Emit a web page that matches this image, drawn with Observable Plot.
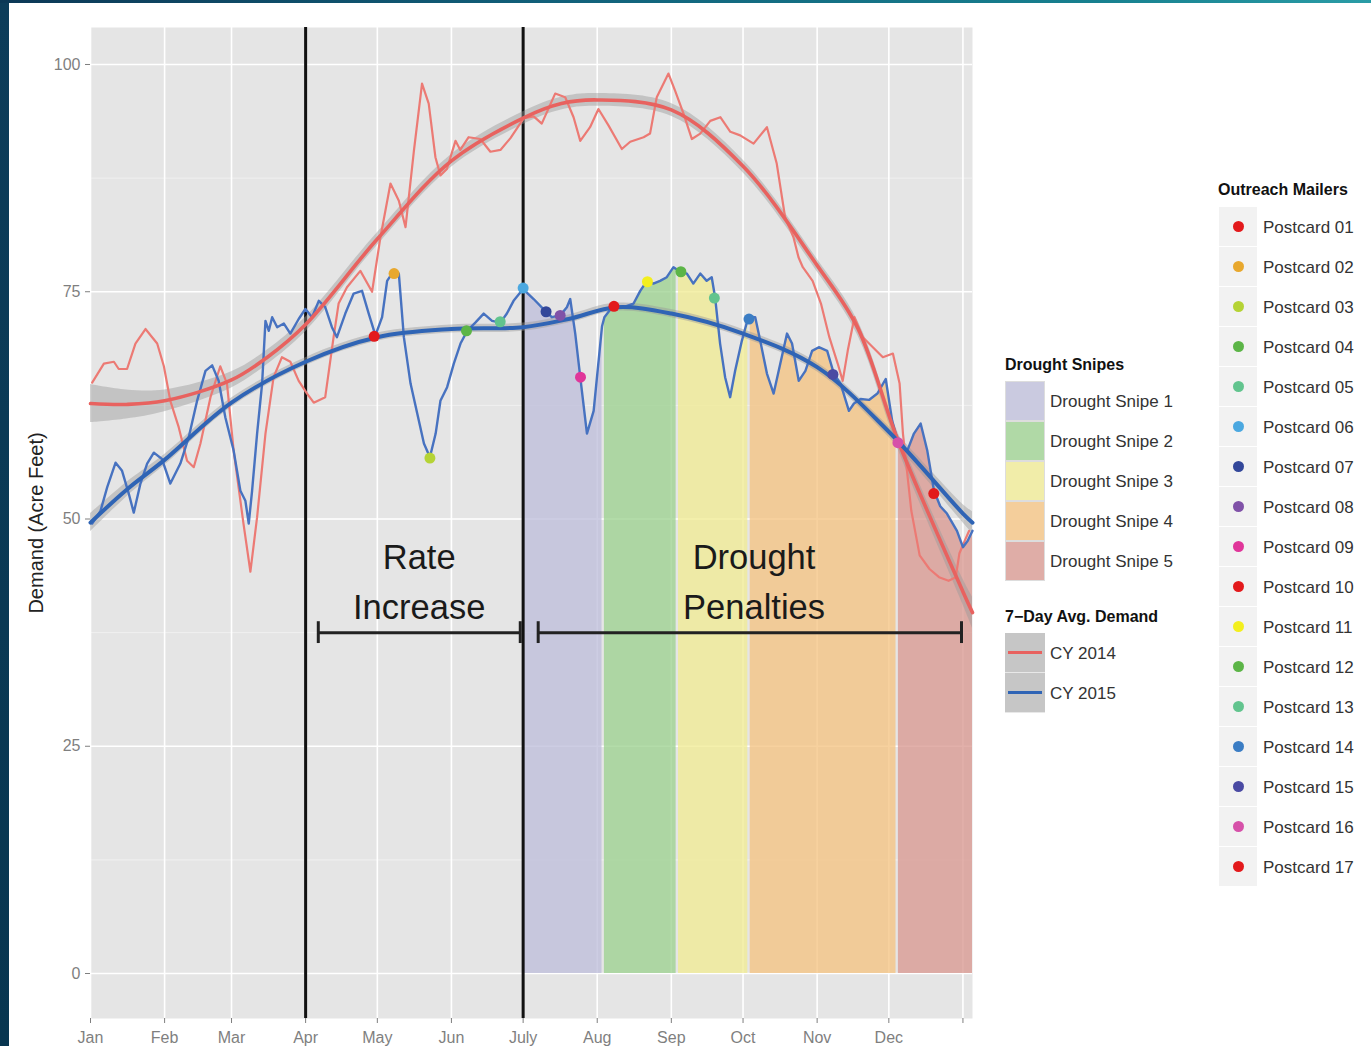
<!DOCTYPE html>
<html><head><meta charset="utf-8">
<script src="https://cdn.jsdelivr.net/npm/d3@7"></script>
<script src="https://cdn.jsdelivr.net/npm/@observablehq/plot@0.6"></script>
<style>
html,body{margin:0;padding:0;background:#fff;}
body{width:1371px;height:1046px;position:relative;overflow:hidden;font-family:"Liberation Sans",Arial,Helvetica,sans-serif;}
#leftbar{position:absolute;left:0;top:0;width:9px;height:1046px;background:linear-gradient(#0d3d5a,#083650);}
#topbar{position:absolute;left:0;top:0;width:1371px;height:3px;background:linear-gradient(to right,#0c3856,#11607a 40%,#17808f 80%,#2a9ca6);}
#chart{position:absolute;left:0;top:0;}
.lg-title{position:absolute;font-weight:bold;font-size:16px;color:#111;line-height:20px;white-space:nowrap;}
.lg-label{position:absolute;font-size:17px;color:#333;line-height:20px;white-space:nowrap;}
.lg-key{position:absolute;box-sizing:border-box;}
</style></head>
<body>
<div id="chart"></div>
<div id="leftbar"></div><div id="topbar"></div>
<div id="legends"></div>
<script>
// ---------- DATA (days counted from Jan 1) ----------
const days2014 = [0.7,5.6,9.8,11.8,15.3,18.8,23,27.9,30.7,33.4,36.9,40.4,43.2,46,50.2,54.3,57.1,59.9,64,66.9,69.7,73.2,76.6,80.1,83.6,87.1,90.6,93.4,98.2,101.7,103.8,107.3,112.9,117.8,121.3,125.5,129,131.8,135.3,138.7,141.5,144.3,146.4,149.1,152.7,154.7,158.2,163.1,167.3,171.5,175.7,181.3,185.4,188.8,194.4,198.6,202.1,204.9,209,212.5,216.7,222.3,225.8,231.4,234.1,236.9,241.8,244.6,248.1,251.6,255.1,259.3,263.5,267.7,271.8,277.4,283,287.1,290.6,294.1,296.2,298,302.1,305.6,309.1,312.6,314.7,316.8,319.6,323.1,327.3,331.5,335.7,338.5,339.9,343.4,346.9,351,355,359,362,363.5,366.4,367.6];
const demand2014 = [65.0,67.1,67.3,66.5,66.5,69.3,70.9,69.3,66.8,63.0,60.1,56.4,55.7,58.3,63.4,66.8,64.9,57.5,49.5,44.2,50.2,59.4,65.6,67.8,67.3,65.2,63.8,62.8,63.4,70.0,73.7,75.5,77.3,75.0,81.0,86.9,85.0,82.1,90.5,97.9,95.7,89.8,87.8,88.5,91.6,90.6,92.0,91.8,90.4,90.6,91.9,94.1,94.3,93.5,96.8,96.4,94.2,91.6,93.1,95.1,93.3,90.7,91.5,92.0,92.4,96.4,99.0,97.1,94.6,91.8,92.4,93.8,94.2,92.6,92.2,91.3,93.1,89.1,83.2,81.0,78.8,77.7,76.2,73.7,70.0,67.1,65.2,68.5,72.2,70.0,68.9,67.8,68.2,64.9,59.4,50.9,46.0,44.5,43.6,43.2,43.6,46.2,48.0,48.7];

const days2015 = [0.7,4.2,7,10.5,13.2,16,18.1,20.9,23.7,26.5,29.9,33.4,37.6,41.1,44.6,48.1,50.9,53.6,56.4,59.9,62.7,64.8,66.2,67.6,69.7,71.8,73.2,74.6,76,78.1,80.9,83.6,87.1,89.9,92.7,95.5,98.2,101,103.1,106.6,110.1,113.6,116.4,119.2,122,124.1,126.9,129,131.1,133.9,136.7,139.5,142,144.4,146.4,149.2,152,154.8,157.6,161,164.5,168,171.5,174.2,177,181,185.4,190.2,193,196.5,199.3,200.7,202.8,204.9,207.7,210.5,214,215,218.8,223,227.2,230,232.8,235.5,238.3,241.1,243.9,245,246,249.5,252.2,255.1,257.8,259.9,261.3,263.4,265.5,267.6,269.7,272.5,275,276,278.1,280.2,283,285.8,288.6,291.4,293.5,296.3,299.1,301.9,304.7,308.2,311,313.8,317.3,319.4,322.2,325.7,329.2,332.7,335.4,337,338,341.7,344.5,347.3,350.1,352.9,355.5,358.3,362.5,365,367,369];
const demand2015 = [49.5,50.9,53.5,56.2,55.3,52.8,50.7,53.9,56.1,57.3,56.6,53.9,56.1,59.0,63.0,66.3,66.9,65.2,61.2,57.5,53.1,52.0,49.5,53.1,59.4,64.9,71.8,70.7,72.2,71.1,71.5,70.4,72.0,73.1,72.2,74.0,73.3,71.1,70.0,72.6,74.8,75.1,72.6,70.2,72.2,76.2,77.3,77.0,70.0,64.9,61.6,58.3,56.8,59.4,63.0,64.5,67.1,69.3,70.7,71.6,72.6,71.8,71.6,72.6,74.0,75.3,74.2,72.9,72.2,72.4,73.3,74.2,70.4,65.6,59.4,61.9,71.2,72.2,73.5,73.3,73.7,75.1,76.2,75.9,76.2,76.6,77.7,77.5,77.3,77.0,75.9,77.0,76.2,76.6,74.4,69.3,65.6,63.4,66.3,69.6,72.0,72.2,72.2,69.6,66.0,63.8,67.1,70.4,69.3,65.2,66.3,68.5,68.9,68.5,66.0,64.9,61.9,62.7,63.2,63.1,63.8,65.4,60.8,59.3,58.5,57.5,59.4,60.5,57.5,53.1,51.4,50.6,48.7,46.9,47.6,48.7];

const smoothDays2014 = [0,15,31,59,74,90,120,151,181,197,212,243,273,304,321,338,365,369];
const smooth2014     = [62.7,62.6,63.0,65.3,67.8,71.4,80.8,89.4,94.1,95.7,96.1,95.0,88.8,77.9,71.0,58.5,42.0,39.7];
const se2014         = [2.1,1.6,1.2,0.9,0.8,0.8,0.7,0.7,0.7,0.7,0.7,0.7,0.7,0.7,0.8,0.9,1.4,1.7];

const smoothDays2015 = [0,15,31,59,90,120,151,181,200,220,243,273,304,334,365,369];
const smooth2015     = [49.6,53.2,56.5,62.8,67.3,70.0,70.9,71.1,72.0,73.3,72.6,70.4,66.7,59.6,50.6,49.6];
const se2015         = [1.0,0.8,0.6,0.5,0.45,0.45,0.45,0.45,0.45,0.45,0.45,0.45,0.5,0.6,1.0,1.2];

const postcardNames  = ["Postcard 01","Postcard 02","Postcard 03","Postcard 04","Postcard 05","Postcard 06","Postcard 07","Postcard 08","Postcard 09","Postcard 10","Postcard 11","Postcard 12","Postcard 13","Postcard 14","Postcard 15","Postcard 16","Postcard 17"];
const postcardDays   = [118.7,127.0,142.0,157.3,171.4,181.0,190.6,196.5,205.0,219.0,233.0,247.0,261.0,275.5,310.6,337.8,352.8];
const postcardValues = [70.1,77.0,56.7,70.7,71.7,75.4,72.8,72.4,65.6,73.4,76.1,77.2,74.3,72.0,65.9,58.4,52.8];
const postcardColors = ["#e31a1c","#e8a82e","#b5d335","#5cb547","#62c48e","#4ba8e0","#33479a","#8052a8","#e0369a","#e31a1c","#f3ef1e","#5cb547","#62c48e","#3b7dc4","#4a4aa3","#d651a9","#e31a1c"];

const snipeNames     = ["Drought Snipe 1","Drought Snipe 2","Drought Snipe 3","Drought Snipe 4","Drought Snipe 5"];
const snipeStartDays = [181,215,246,276,338];
const snipeEndDays   = [214,245,275,337,369];
const snipeColors    = ["#bcbcda","#99d08c","#f0eb90","#f4c27d","#d8958e"];

const seriesNames  = ["CY 2014","CY 2015"];
const seriesColors = ["#e8625f","#2f64b5"];

const monthTickDays = [0,31,59,90,120,151,181,212,243,273,304,334,365];
const monthLabels   = ["Jan","Feb","Mar","Apr","May","Jun","July","Aug","Sep","Oct","Nov","Dec",""];
const majorY = [0,25,50,75,100];
const minorY = [12.5,37.5,62.5,87.5];

const policyDays = [90,181];
const bracketStartDays = [95.3,187.3];
const bracketEndDays   = [179.8,364.4];
const bracketLevel = 37.5;
const annotationTexts = ["Rate\nIncrease","Drought\nPenalties"];
const annotationDays  = [137.5,277.6];
const annotationLevel = 43.5;

// ---------- BUILD ----------
const BASE = Date.UTC(2015,0,1);
const D = d => new Date(BASE + d*864e5);
const raw2014 = days2014.map((d,i)=>({date:D(d), value:demand2014[i]}));
const raw2015 = days2015.map((d,i)=>({date:D(d), value:demand2015[i]}));
const fit2014 = smoothDays2014.map((d,i)=>({date:D(d), value:smooth2014[i], lo:smooth2014[i]-se2014[i], hi:smooth2014[i]+se2014[i]}));
const fit2015 = smoothDays2015.map((d,i)=>({date:D(d), value:smooth2015[i], lo:smooth2015[i]-se2015[i], hi:smooth2015[i]+se2015[i]}));
const monthDates = monthTickDays.map(D);
const labelMap = new Map(monthTickDays.map((d,i)=>[+D(d), monthLabels[i]]));
const brackets = bracketStartDays.map((s,i)=>({x1:D(s), x2:D(bracketEndDays[i])}));
const bracketEnds = bracketStartDays.concat(bracketEndDays).map(D);
const annotations = annotationTexts.map((t,i)=>({x:D(annotationDays[i]), text:t}));

const snipeMarks = snipeNames.map((n,i)=>{
  const pts = days2015.map((d,j)=>({d, date:D(d), value:demand2015[j]}))
    .filter(p => p.d >= snipeStartDays[i] && p.d <= snipeEndDays[i]);
  return Plot.areaY(pts, {x:"date", y1:0, y2:"value", fill:snipeColors[i], fillOpacity:0.75});
});
const dotMarks = postcardNames.map((n,i)=>
  Plot.dot([{date:D(postcardDays[i]), value:postcardValues[i]}], {x:"date", y:"value", r:5.5, fill:postcardColors[i], stroke:"none"}));

const chart = Plot.plot({
  width: 990, height: 1046,
  marginLeft: 90, marginRight: 18, marginTop: 27, marginBottom: 28,
  style: {fontFamily: "'Liberation Sans', Arial, sans-serif", background: "transparent"},
  x: {type: "utc", domain: [D(0), D(369)]},
  y: {domain: [-4.95, 104.07]},
  marks: [
    Plot.frame({fill: "#e5e5e5", stroke: "none"}),
    Plot.ruleY(minorY, {stroke: "#f2f2f2", strokeWidth: 0.9}),
    Plot.ruleY(majorY, {stroke: "#ffffff", strokeWidth: 1.6}),
    Plot.ruleX(monthDates, {stroke: "#ffffff", strokeWidth: 1.6}),
    ...snipeMarks,
    Plot.ruleX(policyDays.map(D), {stroke: "#111", strokeWidth: 3}),
    Plot.areaY(fit2014, {x:"date", y1:"lo", y2:"hi", fill:"#999", fillOpacity:0.45, curve:"catmull-rom"}),
    Plot.areaY(fit2015, {x:"date", y1:"lo", y2:"hi", fill:"#999", fillOpacity:0.45, curve:"catmull-rom"}),
    Plot.line(raw2014, {x:"date", y:"value", stroke:"#ec7a74", strokeWidth:2.2}),
    Plot.line(raw2015, {x:"date", y:"value", stroke:"#4772c0", strokeWidth:2.4}),
    Plot.line(fit2014, {x:"date", y:"value", stroke:seriesColors[0], strokeWidth:3.6, curve:"catmull-rom"}),
    Plot.line(fit2015, {x:"date", y:"value", stroke:seriesColors[1], strokeWidth:4, curve:"catmull-rom"}),
    ...dotMarks,
    Plot.ruleY(brackets, {x1:"x1", x2:"x2", y:bracketLevel, stroke:"#222", strokeWidth:3}),
    Plot.ruleX(bracketEnds, {y1:bracketLevel-1.2, y2:bracketLevel+1.2, stroke:"#222", strokeWidth:3}),
    Plot.text(annotations, {x:"x", y:annotationLevel, text:"text", fontSize:34.5, lineHeight:1.45, fill:"#1a1a1a"}),
    Plot.axisX(monthDates, {tickFormat: d => labelMap.get(+d), tickSize:5, tickPadding:8, fontSize:16, color:"#7f7f7f", label:null}),
    Plot.axisY(majorY, {tickSize:5, tickPadding:5, fontSize:16, color:"#7f7f7f", label:null}),
    Plot.text(["Demand (Acre Feet)"], {frameAnchor:"left", dx:-54, rotate:-90, textAnchor:"middle", fontSize:20, fill:"#222"})
  ]
});
document.getElementById("chart").appendChild(chart);

// ---------- LEGENDS ----------
const lg = document.getElementById("legends");
function el(cls, css, text){ const e=document.createElement("div"); e.className=cls; Object.assign(e.style, css); if(text!=null) e.textContent=text; lg.appendChild(e); return e; }

el("lg-title", {left:"1005px", top:"355px"}, "Drought Snipes");
snipeNames.forEach((n,i)=>{
  const k = el("lg-key", {left:"1005px", top:(381+40*i)+"px", width:"40px", height:"40px", background:"#f2f2f2", border:"1px solid #ddd"});
  const f = document.createElement("div"); Object.assign(f.style,{position:"absolute",left:"0",top:"0",right:"0",bottom:"0",background:snipeColors[i],opacity:"0.75"}); k.appendChild(f);
  el("lg-label", {left:"1050px", top:(392+40*i)+"px"}, n);
});
el("lg-title", {left:"1005px", top:"607px"}, "7\u2212Day Avg. Demand");
seriesNames.forEach((n,i)=>{
  const k = el("lg-key", {left:"1005px", top:(633+40*i)+"px", width:"40px", height:"40px", background:"#c6c6c6", borderBottom:"1px solid #e8e8e8"});
  const l = document.createElement("div"); Object.assign(l.style,{position:"absolute",left:"3px",right:"3px",top:"18px",height:"3px",background:seriesColors[i]}); k.appendChild(l);
  el("lg-label", {left:"1050px", top:(644+40*i)+"px"}, n);
});
el("lg-title", {left:"1218px", top:"180px"}, "Outreach Mailers");
postcardNames.forEach((n,i)=>{
  const k = el("lg-key", {left:"1219px", top:(207+40*i)+"px", width:"38px", height:"39px", background:"#f2f2f2"});
  const d = document.createElement("div"); Object.assign(d.style,{position:"absolute",left:"13.5px",top:"14px",width:"11px",height:"11px",borderRadius:"50%",background:postcardColors[i]}); k.appendChild(d);
  el("lg-label", {left:"1263px", top:(218+40*i)+"px"}, n);
});
</script>
</body></html>
